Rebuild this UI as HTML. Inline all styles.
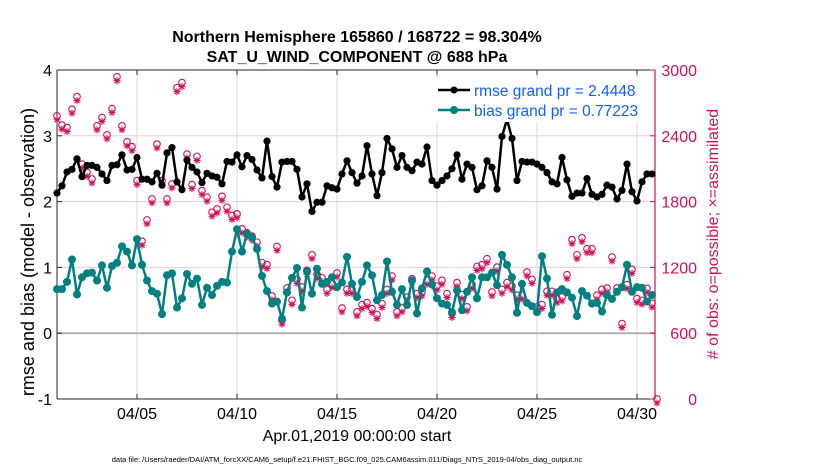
<!DOCTYPE html>
<html><head><meta charset="utf-8"><style>
html,body{margin:0;padding:0;background:#fff;}
svg{display:block;font-family:"Liberation Sans",Arial,sans-serif;}
</style></head><body>
<svg id="chart" width="830" height="470" viewBox="0 0 830 470">
<text x="357" y="42" text-anchor="middle" font-size="16" font-weight="bold">Northern Hemisphere 165860 / 168722 = 98.304%</text>
<text x="357" y="62" text-anchor="middle" font-size="16" font-weight="bold">SAT_U_WIND_COMPONENT @ 688 hPa</text>
<g id="grid"></g>
<g id="axes"></g>
<g id="obs"></g>
<g id="series"></g>
<text transform="translate(34,252) rotate(-90)" text-anchor="middle" font-size="18">rmse and bias (model - observation)</text>
<text transform="translate(718,234) rotate(-90)" text-anchor="middle" font-size="16" fill="#d0105a"># of obs: o=possible; ×=assimilated</text>
<text x="357" y="441" text-anchor="middle" font-size="16">Apr.01,2019 00:00:00 start</text>
<text x="347" y="462" text-anchor="middle" font-size="7.5">data file: /Users/raeder/DAI/ATM_forcXX/CAM6_setup/f.e21.FHIST_BGC.f09_025.CAM6assim.011/Diags_NTrS_2019-04/obs_diag_output.nc</text>
<g>
<rect x="432" y="78" width="210" height="44" fill="#fff"/>
<line x1="438" y1="90" x2="470" y2="90" stroke="#000" stroke-width="2.5"/>
<circle cx="454" cy="90" r="3.5" fill="#000"/>
<text x="474" y="96" font-size="15.5" fill="#1060ff">rmse grand pr = 2.4448</text>
<line x1="438" y1="110" x2="470" y2="110" stroke="#008080" stroke-width="2.5"/>
<circle cx="454" cy="110" r="4" fill="#008080"/>
<text x="474" y="116" font-size="15.5" fill="#1060ff">bias grand pr = 0.77223</text>
</g>
</svg>
<script>
const rmse = [2.13,2.24,2.45,2.49,2.65,2.38,2.55,2.55,2.52,2.42,2.32,2.55,2.56,2.71,2.48,2.49,2.67,2.34,2.34,2.30,2.43,2.25,2.74,2.82,2.30,2.18,2.63,2.52,2.45,2.29,
2.43,2.39,2.37,2.27,2.61,2.60,2.71,2.53,2.70,2.64,2.48,2.36,2.92,2.38,2.22,2.60,2.61,2.61,2.49,2.07,2.27,1.85,1.99,1.99,2.24,2.21,2.19,2.42,2.62,
2.44,2.28,2.39,2.85,2.42,2.09,2.44,2.96,2.80,2.52,2.70,2.52,2.47,2.60,2.57,2.83,2.32,2.25,2.32,2.39,2.50,2.71,2.34,2.57,2.52,2.18,2.24,2.62,2.52,
2.19,2.99,3.25,2.96,2.32,2.61,2.60,2.60,2.57,2.52,2.44,2.30,2.27,2.67,2.33,2.08,2.13,2.13,2.35,2.11,2.07,2.11,2.25,2.22,2.04,2.17,2.57,2.15,2.01,2.30,2.42,2.42];
const bias = [0.67,0.67,0.78,1.12,0.59,0.85,0.91,0.92,0.80,1.03,0.69,1.02,1.07,1.32,1.24,1.03,1.43,1.04,0.80,0.64,0.60,0.29,0.88,0.91,0.39,0.53,0.90,0.75,0.83,0.43,
0.69,0.58,0.72,0.78,0.77,1.24,1.58,1.24,1.51,1.46,1.28,0.87,0.64,0.45,0.48,0.22,0.62,0.84,0.99,0.39,0.94,0.60,0.98,0.75,0.78,0.85,0.70,0.77,1.16,
0.75,0.55,0.78,1.03,0.88,0.50,0.58,1.09,0.63,0.43,0.67,0.43,0.80,0.30,0.68,0.94,0.74,0.53,0.45,0.43,0.32,0.65,0.35,0.63,0.85,0.53,0.85,0.85,0.92,
0.73,1.19,1.04,0.85,0.31,0.75,0.46,0.41,0.32,1.17,0.83,0.28,0.62,0.67,0.62,0.54,0.26,0.64,0.57,0.45,0.46,0.33,0.58,0.52,0.63,0.70,1.04,0.63,0.70,0.69,0.48,0.58];
const obsPossible = [2582,2497,2476,2642,2757,2142,2067,2006,2491,2567,2409,2648,2939,2491,2345,2300,1991,1439,1633,1824,2324,1991,1824,1961,2839,2885,2233,1955,2212,1900,
1840,1703,1733,1848,1748,1673,1688,1551,1515,1485,1430,1243,1227,939,1391,718,1012,900,1091,1021,1173,1315,1137,1106,1000,1052,1149,830,1000,
1000,794,861,879,824,770,870,1000,1121,794,830,930,1097,961,976,1082,1121,1030,1082,961,779,1061,952,840,1043,1209,1224,1279,976,
1203,1000,1061,1030,946,946,1158,1091,840,861,982,982,915,930,1133,1452,1315,1470,1370,1370,946,1000,1012,1294,1012,688,1043,1182,915,900,1009,873,0];
const xTickDays = [4,9,14,19,24,29];
const xTickLabels = ["04/05","04/10","04/15","04/20","04/25","04/30"];
const leftTicks = [-1,0,1,2,3,4];
const rightTicks = [0,600,1200,1800,2400,3000];

const NS = "http://www.w3.org/2000/svg";
const X0 = 57, X1 = 655, Y0 = 70, Y1 = 399, DAYS = 29.9;
const xDay = d => X0 + (X1 - X0) * d / DAYS;
const xIdx = i => xDay(i / 4);
const yL = v => Y1 - (v + 1) / 5 * (Y1 - Y0);
const yR = c => Y1 - c / 3000 * (Y1 - Y0);
function mk(tag, attrs, parent) {
  const e = document.createElementNS(NS, tag);
  for (const k in attrs) e.setAttribute(k, attrs[k]);
  parent.appendChild(e);
  return e;
}
const grid = document.getElementById('grid');
const axes = document.getElementById('axes');
const obsG = document.getElementById('obs');
const ser = document.getElementById('series');

[1,2,3].forEach(v => {
  const l = mk('line', {x1:X0, x2:X1, y1:yL(v), y2:yL(v), stroke:'#f4c8d8', 'stroke-width':1}, grid);
  
  
});
xTickDays.forEach(d => {
  const l = mk('line', {x1:xDay(d), x2:xDay(d), y1:Y0, y2:Y1, stroke:'#d8d8d8', 'stroke-width':1}, grid);
  
  
});
const z = mk('line', {x1:X0, x2:X1, y1:yL(0), y2:yL(0), stroke:'#b0b0b0', 'stroke-width':2}, grid);



const fr = mk('path', {d:`M${X0},${Y1}L${X0},${Y0}L${X1},${Y0}M${X0},${Y1}L${X1},${Y1}`, fill:'none', stroke:'#262626', 'stroke-width':1}, axes);


const ra = mk('line', {x1:X1, x2:X1, y1:Y0, y2:Y1, stroke:'#d0105a', 'stroke-width':1.2}, axes);



leftTicks.forEach(v => {
  mk('line', {x1:X0, x2:X0+5, y1:yL(v), y2:yL(v), stroke:'#262626'}, axes);
  const t = mk('text', {x:X0-5, y:yL(v)+6, 'text-anchor':'end', 'font-size':16}, axes);
  t.textContent = v;
  
  
});
rightTicks.forEach(c => {
  mk('line', {x1:X1-5, x2:X1, y1:yR(c), y2:yR(c), stroke:'#d0105a'}, axes);
  const t = mk('text', {x:697, y:yR(c)+6, 'text-anchor':'end', 'font-size':16, fill:'#d0105a'}, axes);
  t.textContent = c;
  
  
});
xTickDays.forEach((d, i) => {
  mk('line', {x1:xDay(d), x2:xDay(d), y1:Y1, y2:Y1-5, stroke:'#262626'}, axes);
  mk('line', {x1:xDay(d), x2:xDay(d), y1:Y0, y2:Y0+5, stroke:'#262626'}, axes);
  const t = mk('text', {x:xDay(d), y:419, 'text-anchor':'middle', 'font-size':16}, axes);
  t.textContent = xTickLabels[i];
  
  
});

obsPossible.forEach((c, i) => {
  if (c == null) return;
  const x = xIdx(i), y = yR(c);
  const g = mk('g', {stroke:'#d0105a', fill:'none', 'stroke-width':1.1}, obsG);
  
  
  mk('circle', {cx:x, cy:y, r:3.3}, g);
  const ay = y + 4;
  mk('path', {d:`M${x-3.5},${ay}L${x+3.5},${ay}M${x},${ay-3.5}L${x},${ay+3.5}M${x-2.5},${ay-2.5}L${x+2.5},${ay+2.5}M${x-2.5},${ay+2.5}L${x+2.5},${ay-2.5}`}, g);
});

function drawSeries(vals, color, r, name) {
  const d = vals.map((v, i) => (i ? 'L' : 'M') + xIdx(i).toFixed(1) + ',' + yL(v).toFixed(1)).join('');
  const p = mk('path', {d:d, fill:'none', stroke:color, 'stroke-width':2.5, 'stroke-linejoin':'round'}, ser);
  
  
  vals.forEach((v, i) => {
    const c = mk('circle', {cx:xIdx(i), cy:yL(v), r:r, fill:color}, ser);
    
    
  });
}
drawSeries(bias, '#008080', 4, 'bias');
drawSeries(rmse, '#000000', 3.6, 'rmse');
</script>
</body></html>
